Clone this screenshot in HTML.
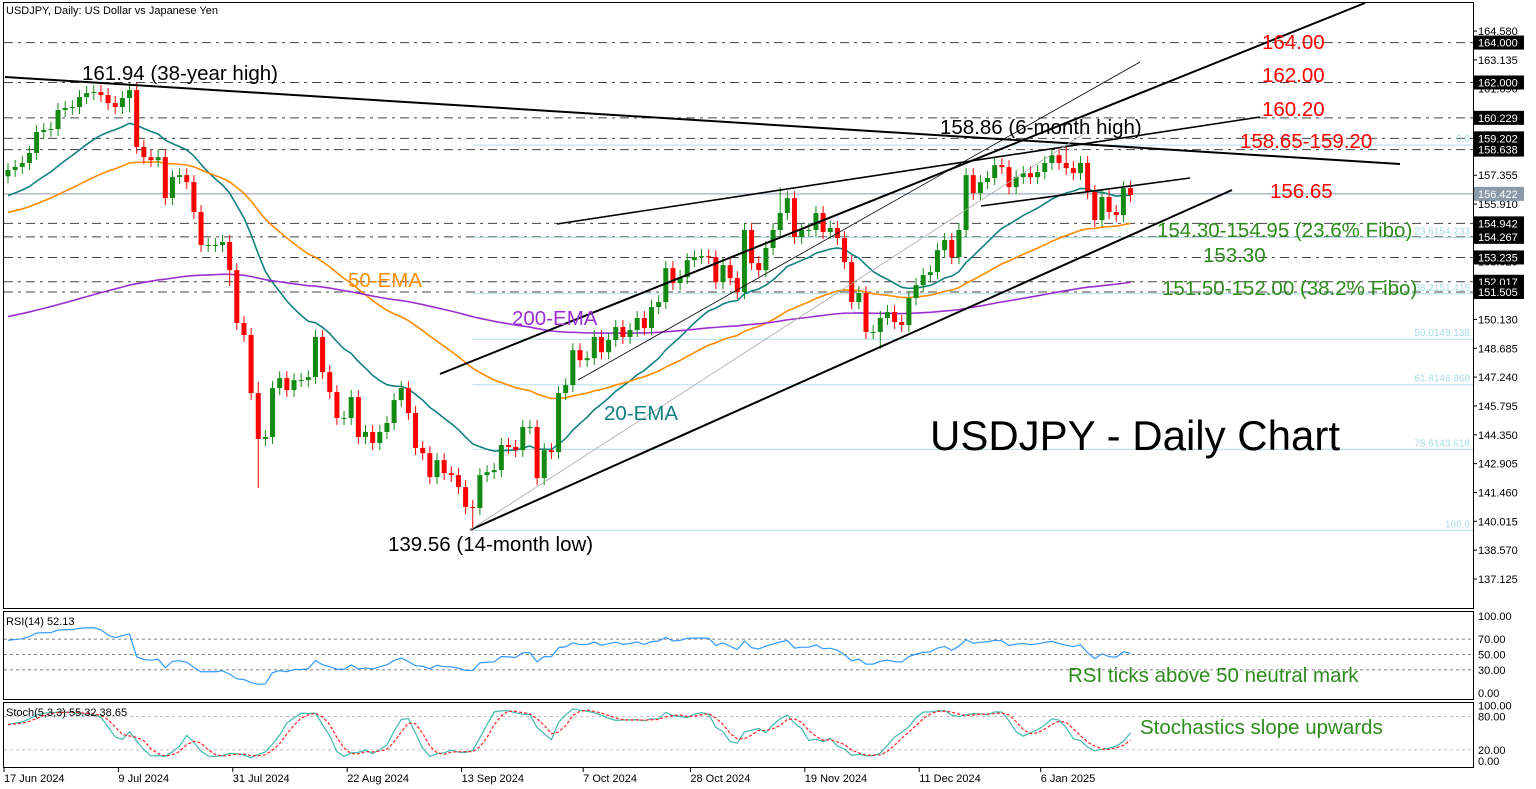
<!DOCTYPE html>
<html><head><meta charset="utf-8"><title>USDJPY Daily</title>
<style>
html,body{margin:0;padding:0;background:#fff;}
svg{display:block;font-family:"Liberation Sans",sans-serif;}
</style></head>
<body>
<svg id="chart" width="1536" height="789" viewBox="0 0 1536 789" xmlns="http://www.w3.org/2000/svg">
<rect x="0" y="0" width="1536" height="789" fill="#fff"/>
<rect x="3.5" y="2.5" width="1470" height="606" fill="none" stroke="#000"/>
<rect x="3.5" y="611.5" width="1470" height="88" fill="none" stroke="#000"/>
<rect x="3.5" y="702.5" width="1470" height="65" fill="none" stroke="#000"/>
<g id="g-levels"></g>
<g id="g-ema"></g>
<g id="g-candles"></g>
<g id="g-trend"></g>
<g id="g-rsi"></g>
<g id="g-stoch"></g>
<g id="g-axis"></g>
<g id="g-text"></g>
<text x="6" y="14" font-size="11" fill="#000">USDJPY, Daily:  US Dollar vs Japanese Yen</text>
<text x="6" y="625" font-size="11" fill="#000">RSI(14) 52.13</text>
<text x="6" y="716" font-size="11" fill="#000">Stoch(5,3,3) 55.32 38.65</text>
</svg>
<script>
const closes=[157.62,157.77,157.97,158.47,159.52,159.62,159.67,160.62,160.72,160.77,161.27,161.47,161.52,161.37,160.97,160.77,161.22,161.62,158.77,158.26,158.11,158.26,156.21,157.26,157.36,157.01,155.51,153.86,153.86,153.86,154.01,152.60,149.95,149.35,146.44,144.14,144.24,146.69,147.19,146.59,147.09,147.09,147.24,149.25,147.49,146.49,145.19,145.19,146.24,144.24,144.49,143.94,144.49,144.94,146.09,146.69,145.44,143.69,143.43,142.23,143.08,142.43,142.33,141.73,140.73,140.68,142.33,
142.48,142.58,143.84,143.74,143.58,144.74,144.74,142.18,143.58,143.48,146.44,146.84,148.59,148.09,148.19,149.25,148.49,149.10,149.75,149.25,149.60,150.20,149.70,150.75,151.00,152.70,151.95,152.25,153.10,153.25,153.30,153.25,152.00,152.85,152.20,151.50,154.61,152.95,152.60,153.71,154.61,155.46,156.21,154.26,154.61,154.61,155.46,154.51,154.71,154.21,153.00,
151.00,151.45,149.50,149.50,150.20,150.50,150.00,149.85,151.20,151.85,152.35,152.50,153.60,154.11,153.25,154.61,157.36,156.46,157.01,157.21,157.86,157.76,156.76,157.26,157.46,157.26,157.51,157.97,158.36,157.97,157.71,157.46,157.97,156.51,155.11,156.26,155.51,155.36,156.71,156.36];
const firstOpen=157.30;
const highIdx=[17,35,65,148,108];
const highVal=[161.94,147.00,141.00,158.86,156.75];
const lowIdx=[35,65,122,17,31];
const lowVal=[141.70,139.56,148.65,160.50,151.80];
const ema20Seed=156.2, ema50Seed=155.4, ema200Seed=150.2;
const levelVals=[164.000,162.000,160.229,159.202,158.638,154.942,154.267,153.235,152.017,151.505];
const fibVals=[158.86,154.233,151.415,149.138,146.860,143.618,139.56];
const fibLabels=["0.0","23.6154.233","38.2151.415","50.0149.138","61.8146.860","78.6143.618","100.0"];
const priceTicks=["164.580","163.135","161.690","160.245","158.800","157.355","155.910","154.465","153.020","151.575","150.130","148.685","147.240","145.795","144.350","142.905","141.460","140.015","138.570","137.125"];
const dateLabels=["17 Jun 2024","9 Jul 2024","31 Jul 2024","22 Aug 2024","13 Sep 2024","7 Oct 2024","28 Oct 2024","19 Nov 2024","11 Dec 2024","6 Jan 2025"];
const dateIdx=[0,16,32,48,64,81,96,112,128,145];
const currentPrice=156.422;

const NS="http://www.w3.org/2000/svg";
const X0=8, DX=7.15, PTOP=164.58, PPX=19.96, PY0=31;
function xs(i){return X0+i*DX;}
function yp(p){return PY0+(PTOP-p)*PPX;}
function yr(v){return 693-0.77*v;}
function ysto(v){return 761-0.555*v;}
function mk(tag,attrs,parent){const e=document.createElementNS(NS,tag);for(const k in attrs)e.setAttribute(k,attrs[k]);parent.appendChild(e);return e;}
const gL=document.getElementById('g-levels'),gE=document.getElementById('g-ema'),gC=document.getElementById('g-candles'),gT=document.getElementById('g-trend'),gR=document.getElementById('g-rsi'),gS=document.getElementById('g-stoch'),gA=document.getElementById('g-axis'),gX=document.getElementById('g-text');

const n=closes.length;
const opens=[],highs=[],lows=[];
for(let i=0;i<n;i++){
  const o=i===0?firstOpen:closes[i-1];opens.push(o);
  highs.push(Math.max(o,closes[i])+0.35);lows.push(Math.min(o,closes[i])-0.35);
}
highIdx.forEach((k,j)=>{highs[k]=Math.max(highs[k],highVal[j]);});
lowIdx.forEach((k,j)=>{lows[k]=Math.min(lows[k],lowVal[j]);});

levelVals.forEach(v=>{
  const l=mk('line',{x1:4,x2:1473,y1:yp(v),y2:yp(v),stroke:'#444','stroke-width':1,'stroke-dasharray':'9,5,3,5'},gL);
  
  
});
fibVals.forEach((v,j)=>{
  const l=mk('line',{x1:xs(65),x2:1473,y1:yp(v),y2:yp(v),stroke:'#b0e0e6','stroke-width':1},gL);
  
  
  const t=mk('text',{x:1470,y:yp(v)-3,'font-size':10,fill:'#a8dce6','text-anchor':'end'},gL);t.textContent=fibLabels[j];
  
  
});
const cp=mk('line',{x1:4,x2:1473,y1:yp(currentPrice),y2:yp(currentPrice),stroke:'#8899aa','stroke-width':1},gL);



function ema(seed,period){const a=2/(period+1);let e=seed;const out=[];for(let i=0;i<n;i++){e=e+a*(closes[i]-e);out.push(e);}return out;}
[[ema(ema20Seed,20),'#138080','ema-20'],[ema(ema50Seed,50),'#ff8c00','ema-50'],[ema(ema200Seed,200),'#9b30d0','ema-200']].forEach(s=>{
  const p=mk('polyline',{points:s[0].map((v,i)=>xs(i)+','+yp(v)).join(' '),fill:'none',stroke:s[1],'stroke-width':1.6},gE);
  
  
});

for(let i=0;i<n;i++){
  const up=closes[i]>=opens[i];const col=up?'#138a13':'#ff0000';const x=xs(i);
  const w=mk('line',{x1:x,x2:x,y1:yp(highs[i]),y2:yp(lows[i]),stroke:col,'stroke-width':1},gC);
  
  
  const top=yp(Math.max(opens[i],closes[i])),bot=yp(Math.min(opens[i],closes[i]));
  const b=mk('rect',{x:x-2.5,y:top,width:5,height:Math.max(1,bot-top),fill:col},gC);
  
  
}

const trendSegs=[[5,77,1400,164,2,'#000'],[440,374,1365,3,2,'#000'],[470,530,1232,190,2,'#000'],[557,224,1260,117,1.6,'#000'],[981,206,1190,178,1.6,'#000'],[578,380,1140,62,0.8,'#000'],[470,530,1085,133,0.8,'#aaa']];
trendSegs.forEach(s=>{
  const l=mk('line',{x1:s[0],y1:s[1],x2:s[2],y2:s[3],stroke:s[5],'stroke-width':s[4]},gT);
  
  
});

[70,50,30].forEach(v=>{const l=mk('line',{x1:4,x2:1473,y1:yr(v),y2:yr(v),stroke:'#555','stroke-dasharray':'3,3','stroke-width':0.8},gR);
  
  });
let ag=0.28,al=0.14;const rsi=[];
for(let i=0;i<n;i++){const prev=i===0?firstOpen:closes[i-1];const d=closes[i]-prev;ag=(ag*13+Math.max(d,0))/14;al=(al*13+Math.max(-d,0))/14;rsi.push(100-100/(1+ag/al));}
const rl=mk('polyline',{points:rsi.map((v,i)=>xs(i)+','+yr(v)).join(' '),fill:'none',stroke:'#3399ff','stroke-width':1.2},gR);



[80,20].forEach(v=>{const l=mk('line',{x1:4,x2:1473,y1:ysto(v),y2:ysto(v),stroke:'#aaa','stroke-dasharray':'3,3','stroke-width':0.8},gS);
  
  });
const raw=[];for(let i=0;i<n;i++){const a=Math.max(0,i-4);let hh=-1e9,ll=1e9;for(let j=a;j<=i;j++){hh=Math.max(hh,highs[j]);ll=Math.min(ll,lows[j]);}raw.push({c:closes[i]-ll,r:hh-ll});}
const K=[];for(let i=0;i<n;i++){let c=0,r=0;for(let j=Math.max(0,i-2);j<=i;j++){c+=raw[j].c;r+=raw[j].r;}K.push(r?100*c/r:50);}
const D=K.map((v,i)=>{let s=0,c=0;for(let j=Math.max(0,i-2);j<=i;j++){s+=K[j];c++;}return s/c;});
const kl=mk('polyline',{points:K.map((v,i)=>xs(i)+','+ysto(v)).join(' '),fill:'none',stroke:'#40b8b0','stroke-width':1.2},gS);


const dl=mk('polyline',{points:D.map((v,i)=>xs(i)+','+ysto(v)).join(' '),fill:'none',stroke:'#ff2020','stroke-width':1.2,'stroke-dasharray':'3,2'},gS);



priceTicks.forEach(t=>{const y=yp(parseFloat(t));
  const tk=mk('line',{x1:1473,x2:1477,y1:y,y2:y,stroke:'#000'},gA);
  
  
  const tx=mk('text',{x:1478,y:y+4,'font-size':11,fill:'#000'},gA);tx.textContent=t;
  
  });
levelVals.forEach(v=>{const y=yp(v);
  const r=mk('rect',{x:1474,y:y-7,width:50,height:14,fill:'#000'},gA);
  
  
  const tx=mk('text',{x:1478,y:y+4,'font-size':11,fill:'#fff'},gA);tx.textContent=v.toFixed(3);
  
  });
{const y=yp(currentPrice);const r=mk('rect',{x:1474,y:y-7,width:50,height:14,fill:'#8a9aaa'},gA);
  
  
  const tx=mk('text',{x:1478,y:y+4,'font-size':11,fill:'#fff'},gA);tx.textContent=currentPrice.toFixed(3);
  
  }
[[100,'100.00'],[70,'70.00'],[50,'50.00'],[30,'30.00'],[0,'0.00']].forEach(t=>{const y=yr(t[0]);
  const tx=mk('text',{x:1478,y:y+4,'font-size':11,fill:'#000'},gA);tx.textContent=t[1];
  
  });
[[100,'100.00'],[80,'80.00'],[20,'20.00'],[0,'0.00']].forEach(t=>{const y=ysto(t[0]);
  const tx=mk('text',{x:1478,y:y+4,'font-size':11,fill:'#000'},gA);tx.textContent=t[1];
  
  });
dateLabels.forEach((d,j)=>{const x=xs(dateIdx[j])-4;
  const tk=mk('line',{x1:x,x2:x,y1:768,y2:772,stroke:'#000'},gA);
  
  
  const tx=mk('text',{x:x,y:782,'font-size':11,fill:'#000'},gA);tx.textContent=d;
  
  });

const notes=[["161.94 (38-year high)",82,80,20.5,'#000','high-annotation'],["158.86 (6-month high)",940,134,20.5,'#000','six-month-high-annotation'],["139.56 (14-month low)",388,551,20.5,'#000','low-annotation'],
["50-EMA",348,287,20.5,'#ff8c00','ema50-label'],["200-EMA",512,325,20.5,'#9b30d0','ema200-label'],["20-EMA",604,420,20.5,'#138080','ema20-label'],
["USDJPY - Daily Chart",930,450,42,'#000','chart-heading'],
["164.00",1262,49,20.5,'#ff0000','level-164'],["162.00",1262,82,20.5,'#ff0000','level-162'],["160.20",1262,116,20.5,'#ff0000','level-160-20'],["158.65-159.20",1240,148,20.5,'#ff0000','level-158-65'],["156.65",1270,198,20.5,'#ff0000','level-156-65'],
["154.30-154.95 (23.6% Fibo)",1157,237,20.5,'#2e8b1e','level-154-30'],["153.30",1203,262,20.5,'#2e8b1e','level-153-30'],["151.50-152.00 (38.2% Fibo)",1162,295,20.5,'#2e8b1e','level-151-50'],
["RSI ticks above 50 neutral mark",1068,682,20.5,'#2e8b1e','rsi-note'],["Stochastics slope upwards",1140,734,20.5,'#2e8b1e','stoch-note']];
notes.forEach(a=>{const t=mk('text',{x:a[1],y:a[2],'font-size':a[3],fill:a[4]},gX);t.textContent=a[0];
  
  });
</script>
</body></html>
